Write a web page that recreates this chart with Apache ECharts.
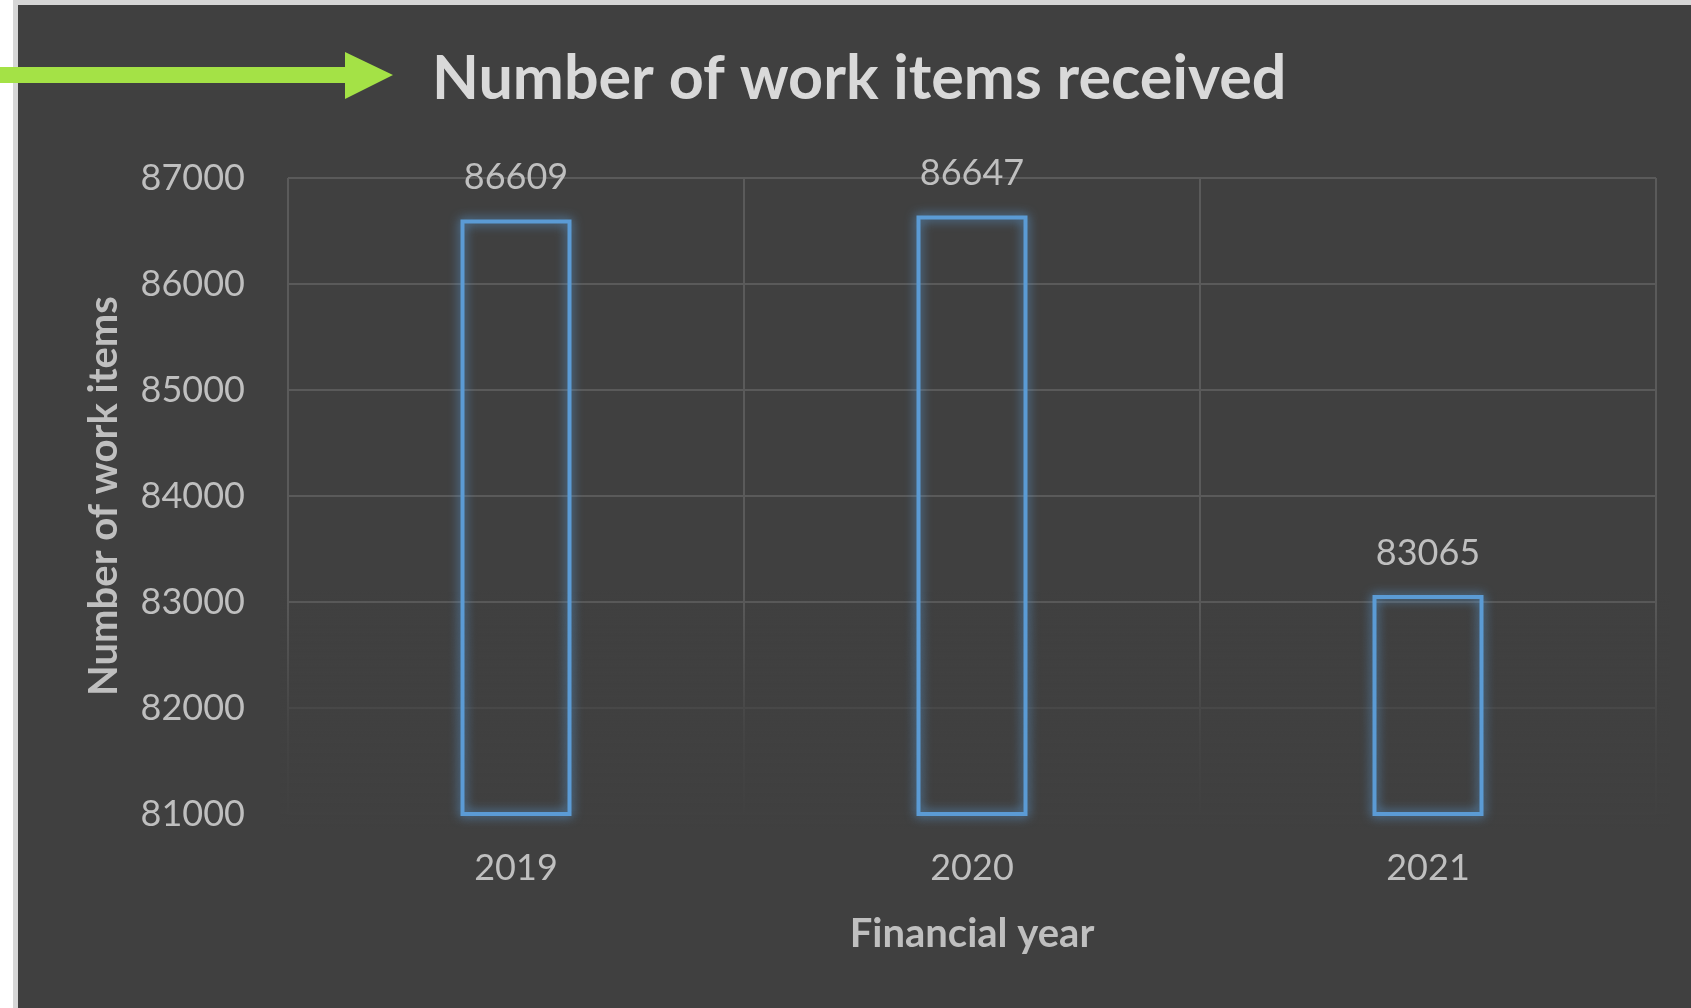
<!DOCTYPE html>
<html>
<head>
<meta charset="utf-8">
<title>Number of work items received</title>
<script src="https://cdn.jsdelivr.net/npm/echarts@6/dist/echarts.min.js"></script>
<style>
  html, body { margin: 0; padding: 0; width: 1691px; height: 1008px; background: #ffffff; overflow: hidden; }
  #frame { position: absolute; left: 13px; top: 0; width: 1678px; height: 1008px; background: #d6d6d6; }
  #panel { position: absolute; left: 18px; top: 5px; width: 1673px; height: 1003px; background: #404040; }
  #chart { position: absolute; left: 0; top: 0; width: 1691px; height: 1008px; }
</style>
</head>
<body>
<div id="frame"></div>
<div id="panel"></div>
<div id="chart"></div>
<script>
// Work items received per financial year
const years = ['2019', '2020', '2021'];
const workItems = [86609, 86647, 83065];
const yTicks = { min: 81000, max: 87000, step: 1000 };

const chart = echarts.init(document.getElementById('chart'), null, { renderer: 'canvas' });

const fontFamily = 'Lato, "Open Sans", sans-serif';
const gridBox = { left: 288, right: 35, top: 178, bottom: 194 };

chart.setOption({
  backgroundColor: 'transparent',
  animation: false,
  title: {
    text: 'Number of work items received',
    left: 427,
    top: 44,
    textStyle: { color: '#d9d9d9', fontFamily, fontWeight: 'bold', fontSize: 61 }
  },
  grid: gridBox,
  xAxis: {
    type: 'category',
    data: years,
    boundaryGap: true,
    name: 'Financial year',
    nameLocation: 'middle',
    nameGap: 100,
    nameTextStyle: { color: '#bfbfbf', fontFamily, fontWeight: 'bold', fontSize: 40 },
    axisLine: { show: false },
    axisTick: { show: false },
    axisLabel: { color: '#bfbfbf', fontFamily, fontSize: 36, margin: 36 },
    splitLine: { show: true, lineStyle: { color: '#5a5a5a', width: 2 } }
  },
  yAxis: {
    type: 'value',
    min: yTicks.min,
    max: yTicks.max,
    interval: yTicks.step,
    name: 'Number of work items',
    nameLocation: 'middle',
    nameGap: 164,
    nameRotate: 90,
    nameTextStyle: { color: '#bfbfbf', fontFamily, fontWeight: 'bold', fontSize: 40 },
    axisLine: { show: false },
    axisTick: { show: false },
    axisLabel: { color: '#bfbfbf', fontFamily, fontSize: 36, margin: 43, formatter: v => String(v) },
    splitLine: { show: true, lineStyle: { color: '#5a5a5a', width: 2 } }
  },
  graphic: [
    // green pointer arrow left of the title
    {
      type: 'polygon',
      z: 100,
      shape: { points: [[0, 67], [345, 67], [345, 52], [393, 75], [345, 99], [345, 83], [0, 83]] },
      style: { fill: '#a4e246' }
    },
    // gridlines fade out toward the bottom of the plot
    {
      type: 'rect',
      z: 1,
      silent: true,
      shape: { x: 280, y: 590, width: 1390, height: 240 },
      style: {
        fill: new echarts.graphic.LinearGradient(0, 0, 0, 1, [
          { offset: 0, color: 'rgba(64,64,64,0)' },
          { offset: 0.6, color: 'rgba(64,64,64,0.85)' },
          { offset: 1, color: 'rgba(64,64,64,1)' }
        ])
      }
    }
  ],
  series: [{
    type: 'bar',
    data: workItems,
    barWidth: 111,
    z: 5,
    itemStyle: {
      color: 'rgba(0,0,0,0)',
      borderColor: '#5b9bd5',
      borderWidth: 4,
      shadowColor: 'rgba(91,155,213,1)',
      shadowBlur: 11
    },
    label: {
      show: true,
      position: 'top',
      distance: 24,
      color: '#bfbfbf',
      fontFamily,
      fontSize: 36
    }
  }]
});
</script>
</body>
</html>
